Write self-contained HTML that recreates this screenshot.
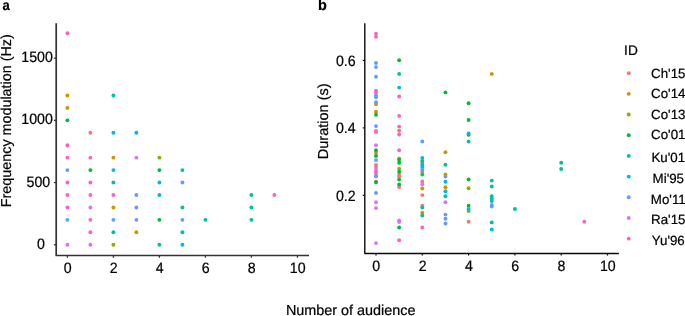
<!DOCTYPE html>
<html><head><meta charset="utf-8"><title>Figure</title>
<style>html,body{margin:0;padding:0;background:#fff;overflow:hidden}svg{display:block;will-change:transform}text{text-rendering:geometricPrecision;font-family:"Liberation Sans",sans-serif;fill:#000;stroke:#000;stroke-width:.22px}.t{font-size:14.2px}.l{font-size:13.33px}.ax{font-size:14.4px}.yl{font-size:14.35px}.id{font-size:13.7px}.b{font-size:14.67px;font-weight:bold}</style></head><body>
<svg width="685" height="316" viewBox="0 0 685 316">
<rect width="685" height="316" fill="#fff"/>
<text class="b" transform="translate(2.6 10.45) scale(0.89 0.98)">a</text>
<text class="b" transform="translate(318 10.45) scale(0.98 1.02)">b</text>
<path d="M56.2 23.2V255.5H309.0" fill="none" stroke="#333" stroke-width="1.7" stroke-linejoin="round"/>
<path d="M53.90 244.75H56.2" stroke="#333" stroke-width="1.3"/>
<text class="t" transform="translate(45.00 248.75) scale(1 1.06)" text-anchor="end">0</text>
<path d="M53.90 182.55H56.2" stroke="#333" stroke-width="1.3"/>
<text class="t" transform="translate(50.20 186.55) scale(1 1.06)" text-anchor="end">500</text>
<path d="M53.90 120.35H56.2" stroke="#333" stroke-width="1.3"/>
<text class="t" transform="translate(52.90 124.35) scale(1 1.06)" text-anchor="end">1000</text>
<path d="M53.90 58.15H56.2" stroke="#333" stroke-width="1.3"/>
<text class="t" transform="translate(52.90 62.15) scale(1 1.06)" text-anchor="end">1500</text>
<path d="M67.40 255.5V257.70" stroke="#333" stroke-width="1.3"/>
<text class="t" transform="translate(67.70 272.80) scale(1 1.06)" text-anchor="middle">0</text>
<path d="M113.40 255.5V257.70" stroke="#333" stroke-width="1.3"/>
<text class="t" transform="translate(113.70 272.80) scale(1 1.06)" text-anchor="middle">2</text>
<path d="M159.40 255.5V257.70" stroke="#333" stroke-width="1.3"/>
<text class="t" transform="translate(159.70 272.80) scale(1 1.06)" text-anchor="middle">4</text>
<path d="M205.40 255.5V257.70" stroke="#333" stroke-width="1.3"/>
<text class="t" transform="translate(205.70 272.80) scale(1 1.06)" text-anchor="middle">6</text>
<path d="M251.40 255.5V257.70" stroke="#333" stroke-width="1.3"/>
<text class="t" transform="translate(251.70 272.80) scale(1 1.06)" text-anchor="middle">8</text>
<path d="M297.40 255.5V257.70" stroke="#333" stroke-width="1.3"/>
<text class="t" transform="translate(297.70 272.80) scale(1 1.06)" text-anchor="middle">10</text>
<text class="yl" transform="translate(10.9 120.7) rotate(-90)" text-anchor="middle">Frequency modulation (Hz)</text>
<circle cx="67.40" cy="33.27" r="1.95" fill="#FF61C3"/>
<circle cx="67.40" cy="95.47" r="1.95" fill="#D39200"/>
<circle cx="113.40" cy="95.47" r="1.95" fill="#00C19F"/>
<circle cx="67.40" cy="107.91" r="1.95" fill="#D39200"/>
<circle cx="67.40" cy="120.35" r="1.95" fill="#00BA38"/>
<circle cx="90.40" cy="132.79" r="1.95" fill="#F8766D"/>
<circle cx="113.40" cy="132.79" r="1.95" fill="#00B9E3"/>
<circle cx="136.40" cy="132.79" r="1.95" fill="#00B9E3"/>
<circle cx="67.40" cy="145.23" r="1.95" fill="#FF61C3"/>
<circle cx="67.40" cy="157.67" r="1.95" fill="#FF61C3"/>
<circle cx="90.40" cy="157.67" r="1.95" fill="#FF61C3"/>
<circle cx="113.40" cy="157.67" r="1.95" fill="#D39200"/>
<circle cx="136.40" cy="157.67" r="1.95" fill="#DB72FB"/>
<circle cx="159.40" cy="157.67" r="1.95" fill="#93AA00"/>
<circle cx="67.40" cy="170.11" r="1.95" fill="#619CFF"/>
<circle cx="90.40" cy="170.11" r="1.95" fill="#00BA38"/>
<circle cx="113.40" cy="170.11" r="1.95" fill="#00B9E3"/>
<circle cx="159.40" cy="170.11" r="1.95" fill="#00BA38"/>
<circle cx="182.40" cy="170.11" r="1.95" fill="#00C19F"/>
<circle cx="67.40" cy="182.55" r="1.95" fill="#FF61C3"/>
<circle cx="90.40" cy="182.55" r="1.95" fill="#FF61C3"/>
<circle cx="113.40" cy="182.55" r="1.95" fill="#00C19F"/>
<circle cx="159.40" cy="182.55" r="1.95" fill="#00B9E3"/>
<circle cx="182.40" cy="182.55" r="1.95" fill="#619CFF"/>
<circle cx="67.40" cy="194.99" r="1.95" fill="#FF61C3"/>
<circle cx="90.40" cy="194.99" r="1.95" fill="#FF61C3"/>
<circle cx="113.40" cy="194.99" r="1.95" fill="#FF61C3"/>
<circle cx="136.40" cy="194.99" r="1.95" fill="#619CFF"/>
<circle cx="159.40" cy="194.99" r="1.95" fill="#00B9E3"/>
<circle cx="251.40" cy="194.99" r="1.95" fill="#00C19F"/>
<circle cx="274.40" cy="194.99" r="1.95" fill="#FF61C3"/>
<circle cx="67.40" cy="207.43" r="1.95" fill="#FF61C3"/>
<circle cx="90.40" cy="207.43" r="1.95" fill="#DB72FB"/>
<circle cx="113.40" cy="207.43" r="1.95" fill="#D39200"/>
<circle cx="136.40" cy="207.43" r="1.95" fill="#619CFF"/>
<circle cx="182.40" cy="207.43" r="1.95" fill="#00C19F"/>
<circle cx="251.40" cy="207.43" r="1.95" fill="#00C19F"/>
<circle cx="67.40" cy="219.87" r="1.95" fill="#619CFF"/>
<circle cx="90.40" cy="219.87" r="1.95" fill="#FF61C3"/>
<circle cx="113.40" cy="219.87" r="1.95" fill="#619CFF"/>
<circle cx="136.40" cy="219.87" r="1.95" fill="#619CFF"/>
<circle cx="159.40" cy="219.87" r="1.95" fill="#00BA38"/>
<circle cx="182.40" cy="219.87" r="1.95" fill="#619CFF"/>
<circle cx="205.40" cy="219.87" r="1.95" fill="#00C19F"/>
<circle cx="251.40" cy="219.87" r="1.95" fill="#00C19F"/>
<circle cx="90.40" cy="232.31" r="1.95" fill="#FF61C3"/>
<circle cx="113.40" cy="232.31" r="1.95" fill="#00C19F"/>
<circle cx="136.40" cy="232.31" r="1.95" fill="#D39200"/>
<circle cx="182.40" cy="232.31" r="1.95" fill="#00C19F"/>
<circle cx="67.40" cy="244.75" r="1.95" fill="#DB72FB"/>
<circle cx="90.40" cy="244.75" r="1.95" fill="#DB72FB"/>
<circle cx="113.40" cy="244.75" r="1.95" fill="#93AA00"/>
<circle cx="159.40" cy="244.75" r="1.95" fill="#00C19F"/>
<circle cx="182.40" cy="244.75" r="1.95" fill="#00B9E3"/>
<path d="M364.8 23.2V253.55H618.9" fill="none" stroke="#0a0a0a" stroke-width="1.4" stroke-linejoin="round"/>
<path d="M362.80 195.40H364.8" stroke="#0a0a0a" stroke-width="1.2"/>
<text class="t" transform="translate(355.70 200.90) scale(1 1.06)" text-anchor="end">0.2</text>
<path d="M362.80 127.90H364.8" stroke="#0a0a0a" stroke-width="1.2"/>
<text class="t" transform="translate(355.70 133.40) scale(1 1.06)" text-anchor="end">0.4</text>
<path d="M362.80 60.40H364.8" stroke="#0a0a0a" stroke-width="1.2"/>
<text class="t" transform="translate(355.70 65.90) scale(1 1.06)" text-anchor="end">0.6</text>
<path d="M376.00 253.55V255.55" stroke="#0a0a0a" stroke-width="1.2"/>
<text class="t" transform="translate(376.30 270.60) scale(1 1.06)" text-anchor="middle">0</text>
<path d="M422.30 253.55V255.55" stroke="#0a0a0a" stroke-width="1.2"/>
<text class="t" transform="translate(422.60 270.60) scale(1 1.06)" text-anchor="middle">2</text>
<path d="M468.60 253.55V255.55" stroke="#0a0a0a" stroke-width="1.2"/>
<text class="t" transform="translate(468.90 270.60) scale(1 1.06)" text-anchor="middle">4</text>
<path d="M514.90 253.55V255.55" stroke="#0a0a0a" stroke-width="1.2"/>
<text class="t" transform="translate(515.20 270.60) scale(1 1.06)" text-anchor="middle">6</text>
<path d="M561.20 253.55V255.55" stroke="#0a0a0a" stroke-width="1.2"/>
<text class="t" transform="translate(561.50 270.60) scale(1 1.06)" text-anchor="middle">8</text>
<path d="M607.50 253.55V255.55" stroke="#0a0a0a" stroke-width="1.2"/>
<text class="t" transform="translate(607.80 270.60) scale(1 1.06)" text-anchor="middle">10</text>
<text class="yl" style="font-size:14.5px" transform="translate(327.8 121.3) rotate(-90)" text-anchor="middle">Duration (s)</text>
<circle cx="376.00" cy="33.60" r="1.95" fill="#FF61C3"/>
<circle cx="376.00" cy="36.70" r="1.95" fill="#FF61C3"/>
<circle cx="376.00" cy="63.00" r="1.95" fill="#619CFF"/>
<circle cx="376.00" cy="67.10" r="1.95" fill="#619CFF"/>
<circle cx="376.00" cy="76.70" r="1.95" fill="#619CFF"/>
<circle cx="376.00" cy="95.20" r="1.95" fill="#619CFF"/>
<circle cx="376.00" cy="97.20" r="1.95" fill="#619CFF"/>
<circle cx="376.00" cy="90.70" r="1.95" fill="#FF61C3"/>
<circle cx="376.00" cy="92.20" r="1.95" fill="#FF61C3"/>
<circle cx="376.00" cy="104.30" r="1.95" fill="#D39200"/>
<circle cx="376.00" cy="102.30" r="1.95" fill="#619CFF"/>
<circle cx="376.00" cy="111.80" r="1.95" fill="#D39200"/>
<circle cx="376.00" cy="114.80" r="1.95" fill="#00BA38"/>
<circle cx="376.00" cy="126.10" r="1.95" fill="#619CFF"/>
<circle cx="376.00" cy="131.00" r="1.95" fill="#FF61C3"/>
<circle cx="376.00" cy="132.00" r="1.95" fill="#FF61C3"/>
<circle cx="376.00" cy="145.20" r="1.95" fill="#DB72FB"/>
<circle cx="376.00" cy="153.00" r="1.95" fill="#D39200"/>
<circle cx="376.00" cy="150.30" r="1.95" fill="#00BA38"/>
<circle cx="376.00" cy="156.00" r="1.95" fill="#00BA38"/>
<circle cx="376.00" cy="164.90" r="1.95" fill="#F8766D"/>
<circle cx="376.00" cy="160.10" r="1.95" fill="#619CFF"/>
<circle cx="376.00" cy="173.00" r="1.95" fill="#F8766D"/>
<circle cx="376.00" cy="167.80" r="1.95" fill="#FF61C3"/>
<circle cx="376.00" cy="171.00" r="1.95" fill="#FF61C3"/>
<circle cx="376.00" cy="176.60" r="1.95" fill="#F8766D"/>
<circle cx="376.00" cy="175.60" r="1.95" fill="#619CFF"/>
<circle cx="376.00" cy="181.80" r="1.95" fill="#F8766D"/>
<circle cx="376.00" cy="182.20" r="1.95" fill="#00BA38"/>
<circle cx="376.00" cy="193.00" r="1.95" fill="#619CFF"/>
<circle cx="376.00" cy="202.30" r="1.95" fill="#DB72FB"/>
<circle cx="376.00" cy="208.10" r="1.95" fill="#DB72FB"/>
<circle cx="376.00" cy="243.10" r="1.95" fill="#DB72FB"/>
<circle cx="399.15" cy="60.30" r="1.95" fill="#00BA38"/>
<circle cx="399.15" cy="73.90" r="1.95" fill="#00C19F"/>
<circle cx="399.15" cy="87.60" r="1.95" fill="#00B9E3"/>
<circle cx="399.15" cy="96.50" r="1.95" fill="#FF61C3"/>
<circle cx="399.15" cy="115.90" r="1.95" fill="#FF61C3"/>
<circle cx="399.15" cy="126.60" r="1.95" fill="#FF61C3"/>
<circle cx="399.15" cy="134.50" r="1.95" fill="#FF61C3"/>
<circle cx="399.15" cy="130.70" r="1.95" fill="#F8766D"/>
<circle cx="399.15" cy="150.20" r="1.95" fill="#FF61C3"/>
<circle cx="399.15" cy="158.40" r="1.95" fill="#F8766D"/>
<circle cx="399.15" cy="159.70" r="1.95" fill="#00BA38"/>
<circle cx="399.15" cy="162.80" r="1.95" fill="#00BA38"/>
<circle cx="399.15" cy="168.80" r="1.95" fill="#93AA00"/>
<circle cx="399.15" cy="174.70" r="1.95" fill="#F8766D"/>
<circle cx="399.15" cy="176.80" r="1.95" fill="#F8766D"/>
<circle cx="399.15" cy="171.70" r="1.95" fill="#00BA38"/>
<circle cx="399.15" cy="187.00" r="1.95" fill="#F8766D"/>
<circle cx="399.15" cy="179.60" r="1.95" fill="#00BA38"/>
<circle cx="399.15" cy="184.40" r="1.95" fill="#00BA38"/>
<circle cx="399.15" cy="220.50" r="1.95" fill="#DB72FB"/>
<circle cx="399.15" cy="222.00" r="1.95" fill="#DB72FB"/>
<circle cx="399.15" cy="227.50" r="1.95" fill="#00BA38"/>
<circle cx="399.15" cy="240.20" r="1.95" fill="#FF61C3"/>
<circle cx="422.30" cy="141.50" r="1.95" fill="#619CFF"/>
<circle cx="422.30" cy="161.80" r="1.95" fill="#D39200"/>
<circle cx="422.30" cy="160.90" r="1.95" fill="#00C19F"/>
<circle cx="422.30" cy="157.90" r="1.95" fill="#00B9E3"/>
<circle cx="422.30" cy="164.50" r="1.95" fill="#00B9E3"/>
<circle cx="422.30" cy="167.00" r="1.95" fill="#00B9E3"/>
<circle cx="422.30" cy="172.00" r="1.95" fill="#D39200"/>
<circle cx="422.30" cy="169.70" r="1.95" fill="#619CFF"/>
<circle cx="422.30" cy="174.60" r="1.95" fill="#00C19F"/>
<circle cx="422.30" cy="181.40" r="1.95" fill="#F8766D"/>
<circle cx="422.30" cy="184.20" r="1.95" fill="#DB72FB"/>
<circle cx="422.30" cy="188.50" r="1.95" fill="#D39200"/>
<circle cx="422.30" cy="195.10" r="1.95" fill="#F8766D"/>
<circle cx="422.30" cy="205.80" r="1.95" fill="#F8766D"/>
<circle cx="422.30" cy="207.60" r="1.95" fill="#00C19F"/>
<circle cx="422.30" cy="212.70" r="1.95" fill="#D39200"/>
<circle cx="422.30" cy="215.50" r="1.95" fill="#00C19F"/>
<circle cx="422.30" cy="227.50" r="1.95" fill="#FF61C3"/>
<circle cx="445.45" cy="92.40" r="1.95" fill="#00BA38"/>
<circle cx="445.45" cy="152.20" r="1.95" fill="#D39200"/>
<circle cx="445.45" cy="164.80" r="1.95" fill="#00C19F"/>
<circle cx="445.45" cy="174.40" r="1.95" fill="#D39200"/>
<circle cx="445.45" cy="176.60" r="1.95" fill="#619CFF"/>
<circle cx="445.45" cy="181.70" r="1.95" fill="#00B9E3"/>
<circle cx="445.45" cy="187.30" r="1.95" fill="#D39200"/>
<circle cx="445.45" cy="191.30" r="1.95" fill="#00B9E3"/>
<circle cx="445.45" cy="196.30" r="1.95" fill="#00B9E3"/>
<circle cx="445.45" cy="202.30" r="1.95" fill="#DB72FB"/>
<circle cx="445.45" cy="214.60" r="1.95" fill="#619CFF"/>
<circle cx="445.45" cy="218.80" r="1.95" fill="#619CFF"/>
<circle cx="445.45" cy="223.50" r="1.95" fill="#619CFF"/>
<circle cx="468.60" cy="103.20" r="1.95" fill="#00BA38"/>
<circle cx="468.60" cy="120.00" r="1.95" fill="#00BA38"/>
<circle cx="468.60" cy="134.70" r="1.95" fill="#00BA38"/>
<circle cx="468.60" cy="133.50" r="1.95" fill="#00B9E3"/>
<circle cx="468.60" cy="141.60" r="1.95" fill="#00C19F"/>
<circle cx="468.60" cy="179.50" r="1.95" fill="#00BA38"/>
<circle cx="468.60" cy="188.30" r="1.95" fill="#93AA00"/>
<circle cx="468.60" cy="205.80" r="1.95" fill="#00BA38"/>
<circle cx="468.60" cy="211.10" r="1.95" fill="#93AA00"/>
<circle cx="468.60" cy="209.00" r="1.95" fill="#00B9E3"/>
<circle cx="468.60" cy="221.80" r="1.95" fill="#F8766D"/>
<circle cx="491.75" cy="73.90" r="1.95" fill="#D39200"/>
<circle cx="491.75" cy="180.60" r="1.95" fill="#00C19F"/>
<circle cx="491.75" cy="186.50" r="1.95" fill="#00C19F"/>
<circle cx="491.75" cy="196.10" r="1.95" fill="#00C19F"/>
<circle cx="491.75" cy="198.50" r="1.95" fill="#00C19F"/>
<circle cx="491.75" cy="201.00" r="1.95" fill="#00C19F"/>
<circle cx="491.75" cy="205.00" r="1.95" fill="#619CFF"/>
<circle cx="491.75" cy="206.60" r="1.95" fill="#619CFF"/>
<circle cx="491.75" cy="222.40" r="1.95" fill="#00C19F"/>
<circle cx="491.75" cy="229.50" r="1.95" fill="#00B9E3"/>
<circle cx="514.90" cy="209.00" r="1.95" fill="#00C19F"/>
<circle cx="561.20" cy="162.75" r="1.95" fill="#00C19F"/>
<circle cx="561.20" cy="169.00" r="1.95" fill="#00C19F"/>
<circle cx="584.35" cy="221.75" r="1.95" fill="#FF61C3"/>
<text class="id" x="624.1" y="54.7">ID</text>
<circle cx="628.75" cy="73.15" r="1.95" fill="#F8766D"/>
<text class="l" x="668.3" y="77.50" text-anchor="middle">Ch'15</text>
<circle cx="628.75" cy="93.84" r="1.95" fill="#D39200"/>
<text class="l" x="668.3" y="98.40" text-anchor="middle">Co'14</text>
<circle cx="628.75" cy="114.53" r="1.95" fill="#93AA00"/>
<text class="l" x="668.3" y="118.90" text-anchor="middle">Co'13</text>
<circle cx="628.75" cy="135.22" r="1.95" fill="#00BA38"/>
<text class="l" x="668.3" y="139.40" text-anchor="middle">Co'01</text>
<circle cx="628.75" cy="155.91" r="1.95" fill="#00C19F"/>
<text class="l" x="668.3" y="162.40" text-anchor="middle">Ku'01</text>
<circle cx="628.75" cy="176.60" r="1.95" fill="#00B9E3"/>
<text class="l" x="668.3" y="182.90" text-anchor="middle">Mi'95</text>
<circle cx="628.75" cy="197.29" r="1.95" fill="#619CFF"/>
<text class="l" x="668.3" y="203.50" text-anchor="middle">Mo'11</text>
<circle cx="628.75" cy="217.98" r="1.95" fill="#DB72FB"/>
<text class="l" x="668.3" y="224.20" text-anchor="middle">Ra'15</text>
<circle cx="628.75" cy="238.67" r="1.95" fill="#FF61C3"/>
<text class="l" x="668.3" y="244.90" text-anchor="middle">Yu'96</text>
<text class="ax" x="350.7" y="315.4" text-anchor="middle">Number of audience</text>
</svg></body></html>
